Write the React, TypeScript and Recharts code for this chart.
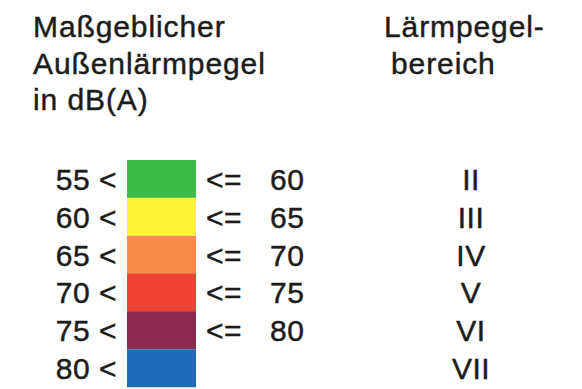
import React from "react";
import { BarChart, Bar, XAxis, YAxis, Cell } from "recharts";

const lowerBounds = [55, 60, 65, 70, 75, 80];
const upperBounds: (number | null)[] = [60, 65, 70, 75, 80, null];
const levelRanges = ["II", "III", "IV", "V", "VI", "VII"];
const bandColors = ["#3dba4a", "#fdf634", "#f98b4a", "#ee4233", "#8c2b50", "#1f6bb8"];
const leftHeader = ["Maßgeblicher", "Außenlärmpegel", "in dB(A)"];
const rightHeader = ["Lärmpegel-", "bereich"];

const data = lowerBounds.map((low, i) => ({
  key: `r${i}`,
  low,
  high: upperBounds[i],
  level: levelRanges[i],
  band: 1,
}));

const FONT = "'Liberation Sans', Arial, sans-serif";
const INK = "#1c1c1c";
const textStyle = {
  fontFamily: FONT,
  fontSize: 30,
  fill: INK,
  stroke: INK,
  strokeWidth: 0.45,
  letterSpacing: 0.5,
};

function LeftTick(props: any) {
  const { x, y, index } = props;
  const row = data[index];
  return (
    <text x={x + 6} y={y + 11} textAnchor="end" {...textStyle}>
      {`${row.low} <`}
    </text>
  );
}

function RightTick(props: any) {
  const { x, y, index } = props;
  const row = data[index];
  return (
    <g {...textStyle}>
      {row.high !== null && (
        <>
          <text x={x + 4} y={y + 11}>{"<="}</text>
          <text x={x + 68} y={y + 11}>{row.high}</text>
        </>
      )}
      <text x={x + 269} y={y + 11} textAnchor="middle">{row.level}</text>
    </g>
  );
}

export default function App() {
  return (
    <div style={{ position: "absolute", left: 0, top: 0, width: 582, height: 389, background: "#fff" }}>
      <svg width={582} height={389} style={{ position: "absolute", left: 0, top: 0 }}>
        <g {...textStyle} letterSpacing={0.9}>
          {leftHeader.map((t, i) => (
            <text key={t} x={33} y={37 + i * 36.5}>{t}</text>
          ))}
          {rightHeader.map((t, i) => (
            <text key={t} x={i === 0 ? 384 : 391} y={37 + i * 36.5}>{t}</text>
          ))}
        </g>
      </svg>
      <div style={{ position: "absolute", left: 0, top: 0 }}>
        <BarChart
          width={582}
          height={389}
          data={data}
          layout="vertical"
          barCategoryGap={0}
          margin={{ top: 160, right: 0, bottom: 2, left: 0 }}
        >
          <XAxis type="number" domain={[0, 1]} hide />
          <YAxis
            yAxisId="left"
            type="category"
            dataKey="key"
            width={127}
            axisLine={false}
            tickLine={false}
            tickMargin={10}
            tick={<LeftTick />}
          />
          <YAxis
            yAxisId="right"
            orientation="right"
            type="category"
            dataKey="key"
            width={386}
            axisLine={false}
            tickLine={false}
            tickMargin={0}
            tick={<RightTick />}
          />
          <Bar dataKey="band" yAxisId="left" isAnimationActive={false}>
            {data.map((d, i) => (
              <Cell key={d.key} fill={bandColors[i]} />
            ))}
          </Bar>
        </BarChart>
      </div>
    </div>
  );
}
